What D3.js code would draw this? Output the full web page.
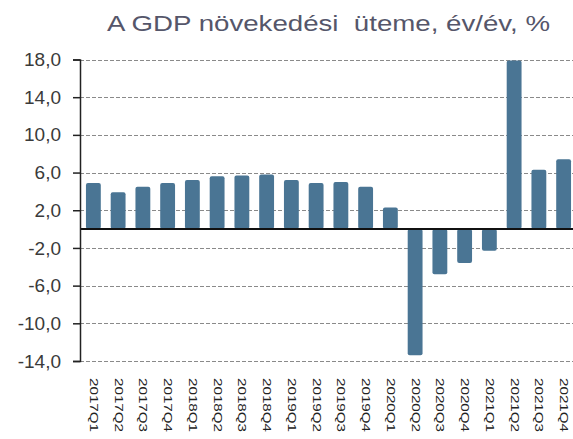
<!DOCTYPE html>
<html>
<head>
<meta charset="utf-8">
<script src="https://cdn.jsdelivr.net/npm/d3@7"></script>
<style>
  body { margin: 0; background: #fff; }
  svg { display: block; font-family: Arial, "Liberation Sans", sans-serif; }
</style>
</head>
<body>
<div id="chart"></div>
<script>
// negyedéves adatok
var negyedevek = ["2017Q1","2017Q2","2017Q3","2017Q4","2018Q1","2018Q2","2018Q3","2018Q4",
  "2019Q1","2019Q2","2019Q3","2019Q4","2020Q1","2020Q2","2020Q3","2020Q4",
  "2021Q1","2021Q2","2021Q3","2021Q4"];
var gdpNovekedes = [4.9, 3.9, 4.5, 4.9, 5.2, 5.6, 5.7, 5.8,
  5.2, 4.9, 5.0, 4.5, 2.3, -13.4, -4.8, -3.6,
  -2.3, 17.9, 6.3, 7.4];
var yTickek = [18, 14, 10, 6, 2, -2, -6, -10, -14];
var cim = "A GDP növekedési  üteme, év/év, %";

function init() {
  var w = 573, h = 439;
  var svg = d3.select("#chart").append("svg")
    .attr("width", w).attr("height", h);

  var x = d3.scaleBand().domain(negyedevek).range([81, 576]).paddingInner(0.4).paddingOuter(0.2);
  var y = d3.scaleLinear().domain([-14, 18]).range([361, 59.5]);

  // cím
  svg.append("text")
    .attr("x", 107).attr("y", 31)
    .attr("font-size", "22px")
    .attr("fill", "#55566a")
    .attr("textLength", 443)
    .attr("lengthAdjust", "spacingAndGlyphs")
    .style("white-space", "pre")
    .text(cim);

  // rácsvonalak
  svg.append("g").selectAll("line")
    .data(yTickek)
    .enter().append("line")
    .attr("x1", 80).attr("x2", w)
    .attr("y1", function(d) { return Math.round(y(d)) + 0.5; })
    .attr("y2", function(d) { return Math.round(y(d)) + 0.5; })
    .attr("stroke", "#8a8a8a")
    .attr("stroke-width", 1)
    .attr("stroke-dasharray", "4,2");

  // oszlopok
  svg.append("g").selectAll("rect")
    .data(gdpNovekedes)
    .enter().append("rect")
    .attr("x", function(d, i) { return x(negyedevek[i]); })
    .attr("y", function(d) { return y(Math.max(0, d)); })
    .attr("width", x.bandwidth())
    .attr("height", function(d) { return Math.abs(y(d) - y(0)); })
    .attr("rx", 2)
    .attr("fill", "#4a7594");

  // nulla vonal
  svg.append("line")
    .attr("x1", 80).attr("x2", w)
    .attr("y1", y(0)).attr("y2", y(0))
    .attr("stroke", "#111").attr("stroke-width", 2);

  // y tengely
  var yAxis = d3.axisLeft(y)
    .tickValues(yTickek)
    .tickSize(7)
    .tickPadding(12)
    .tickFormat(function(d) { return d3.format(".1f")(d).replace(".", ",").replace("−", "-"); });
  var gy = svg.append("g")
    .attr("transform", "translate(80,0)")
    .call(yAxis);
  gy.select(".domain").attr("stroke", "#222").attr("stroke-width", 1.5);
  gy.selectAll(".tick line").attr("stroke", "#222").attr("stroke-width", 1.5);
  gy.selectAll(".tick text")
    .attr("font-size", "19px")
    .attr("font-family", "Arial, 'Liberation Sans', sans-serif")
    .attr("fill", "#3a3a3a");

  // x feliratok
  svg.append("g").selectAll("text")
    .data(negyedevek)
    .enter().append("text")
    .attr("transform", function(d) {
      return "translate(" + (x(d) + x.bandwidth() / 2 - 3.5) + ",378) rotate(90) scale(1.38,1)";
    })
    .attr("font-size", "11px")
    .attr("fill", "#222")
    .text(function(d) { return d; });
}
window.onload = init;
</script>
</body>
</html>
